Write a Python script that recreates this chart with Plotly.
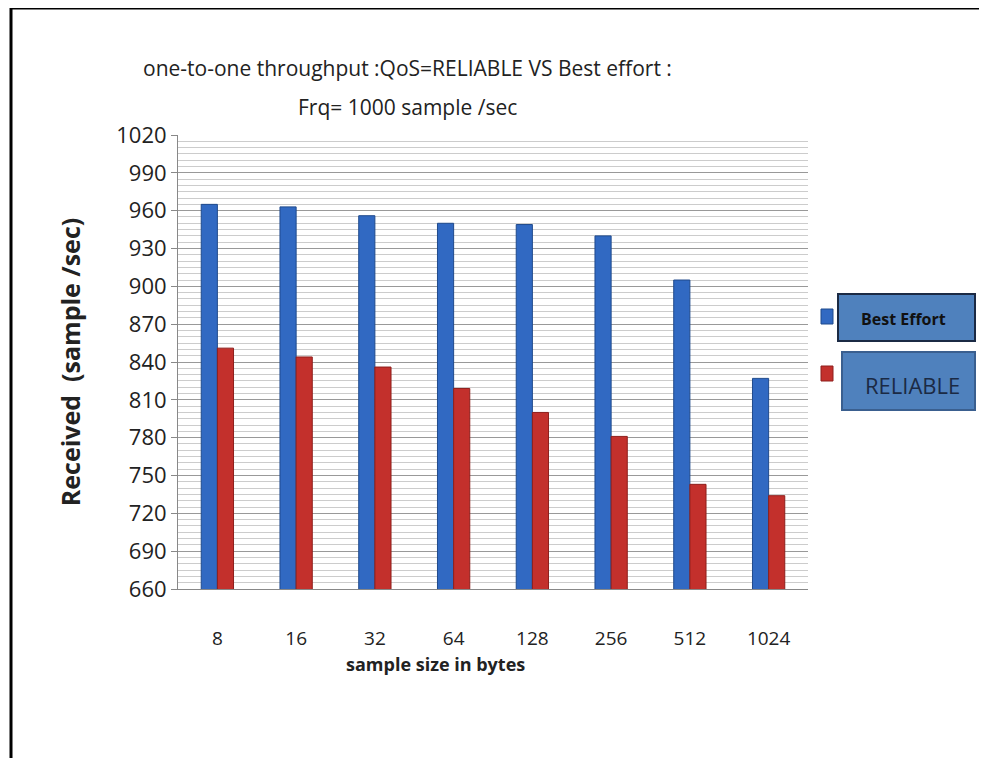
import plotly.graph_objects as go

categories = ["8", "16", "32", "64", "128", "256", "512", "1024"]
best_effort = [965, 963, 956, 950, 949, 940, 905, 827]
reliable = [851, 844, 836, 819, 800, 781, 743, 734]
y_ticks = list(range(660, 1021, 30))

W, H = 987, 758
OFF = 8  # page body margin
# plot area in screenshot px: x 178..808, y 135..589
L, T = 178 - OFF, 135 - OFF
R = W - (808 - OFF)
B = H - (589 - OFF)
PW, PH = W - L - R, H - T - B


def px_x(x):
    return (x - OFF - L) / PW


def px_y(y):
    return (H - (y - OFF) - B) / PH


fig = go.Figure()
fig.add_trace(go.Bar(x=categories, y=best_effort, name="Best Effort",
                     marker=dict(color="#3169C2", line=dict(color="#1F4A8C", width=1))))
fig.add_trace(go.Bar(x=categories, y=reliable, name="RELIABLE",
                     marker=dict(color="#C3302C", line=dict(color="#8E1F1C", width=1))))

fig.update_layout(
    width=W, height=H,
    margin=dict(l=L, r=R, t=T, b=B),
    paper_bgcolor="white", plot_bgcolor="white",
    barmode="group", bargap=0.59, bargroupgap=0,
    showlegend=False,
    font=dict(family="Open Sans", color="#222"),
)
fig.update_yaxes(range=[660, 1020], tickvals=y_ticks, ticks="outside", ticklen=6,
                 tickcolor="#888", showline=True, linecolor="#888", linewidth=1,
                 showgrid=True, gridcolor="#999", gridwidth=1,
                 minor=dict(dtick=5, showgrid=True, gridcolor="#CCC", gridwidth=1),
                 tickfont=dict(family="Open Sans", size=22, color="#222"),
                 title=dict(text="Received  (sample /sec)", standoff=28,
                            font=dict(family="Open Sans", size=25, color="#222", weight="bold")),
                 zeroline=False)
fig.update_xaxes(showline=True, linecolor="#888", linewidth=1, ticks="",
                 ticklabelstandoff=32,
                 tickfont=dict(family="Open Sans", size=19, color="#222"))

# title lines
fig.add_annotation(xref="paper", yref="paper", x=px_x(407), y=px_y(68),
                   xanchor="center", yanchor="middle", showarrow=False,
                   text="one-to-one throughput :QoS=RELIABLE VS Best effort :",
                   font=dict(family="Open Sans", size=21, color="#222"))
fig.add_annotation(xref="paper", yref="paper", x=px_x(407), y=px_y(107),
                   xanchor="center", yanchor="middle", showarrow=False,
                   text="Frq= 1000 sample /sec",
                   font=dict(family="Open Sans", size=21, color="#222"))
# x axis title
fig.add_annotation(xref="paper", yref="paper", x=px_x(435), y=px_y(664),
                   xanchor="center", yanchor="middle", showarrow=False,
                   text="<b>sample size in bytes</b>",
                   font=dict(family="Open Sans", size=18, color="#222"))

# outer frame
fig.add_shape(type="rect", xref="paper", yref="paper",
              x0=px_x(11), x1=px_x(W + 20), y0=px_y(H + 20), y1=px_y(8),
              line=dict(color="black", width=3), fillcolor="rgba(0,0,0,0)", layer="below")

# legend squares
for (y0, y1, col, lc) in [(309, 324, "#3169C2", "#1F4A8C"), (366, 381, "#C3302C", "#8E1F1C")]:
    fig.add_shape(type="rect", xref="paper", yref="paper",
                  x0=px_x(821), x1=px_x(833), y0=px_y(y1), y1=px_y(y0),
                  fillcolor=col, line=dict(color=lc, width=1))

# legend boxes
fig.add_shape(type="rect", xref="paper", yref="paper",
              x0=px_x(838), x1=px_x(975), y0=px_y(341), y1=px_y(294),
              fillcolor="#4F81BD", line=dict(color="#1B2A44", width=2))
fig.add_annotation(xref="paper", yref="paper", x=px_x(904), y=px_y(319),
                   xanchor="center", yanchor="middle",
                   text="<b>Best Effort</b>", showarrow=False,
                   font=dict(family="Open Sans", size=16, color="#111"))
fig.add_shape(type="rect", xref="paper", yref="paper",
              x0=px_x(842), x1=px_x(975), y0=px_y(410), y1=px_y(352),
              fillcolor="#4F81BD", line=dict(color="#3A5F8F", width=2))
fig.add_annotation(xref="paper", yref="paper", x=px_x(912), y=px_y(385),
                   xanchor="center", yanchor="middle",
                   text="RELIABLE", showarrow=False,
                   font=dict(family="Open Sans", size=22, color="#1B2A44"))

fig.write_html("out.html")
